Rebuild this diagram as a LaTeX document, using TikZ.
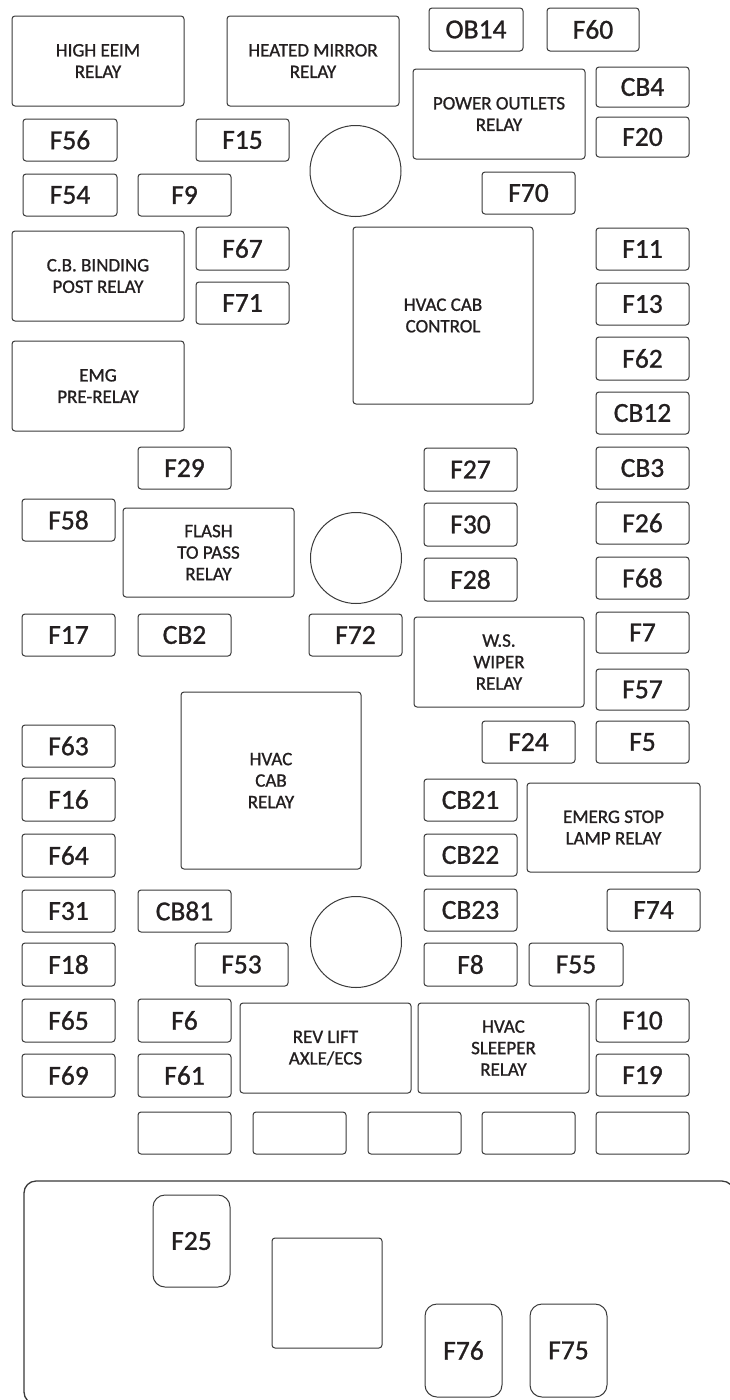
\documentclass[tikz,border=0pt]{standalone}
\usepackage{fontspec}
\setmainfont{Carlito}[BoldFont=Carlito, BoldFeatures={FakeBold=1}]
\definecolor{ln}{HTML}{3A3A3A}
\definecolor{tx}{HTML}{231F20}
\tikzset{
  box/.style={draw=ln, line width=1pt, rounded corners=3pt, inner sep=0pt, text=tx, align=center},
  fz/.style={font=\fontsize{27.5}{27.5}\selectfont\bfseries},
  rl/.style={font=\fontsize{19}{21.5}\selectfont\bfseries},
  bigfz/.style={box, rounded corners=12pt, fz},
  hole/.style={draw=ln, line width=1pt, circle, inner sep=0pt, minimum size=91pt},
}
\newcommand\bx[7][]{\node[box,fz,minimum width={(#5-#3)*1pt},minimum height={(#6-#4)*1pt},#1] (#2) at ({(#3+#5)/2},{(#4+#6)/2}) {#7};}
\begin{document}
\begin{tikzpicture}[x=1pt,y=-1pt]
\useasboundingbox (0,0) rectangle (730,1400);
\fill[white] (0,0) rectangle (730,1400);
% relays
\bx[rl,yshift=-4pt]{heeim}{12}{12}{184}{102}{HIGH EEIM\\RELAY}
\bx[rl,yshift=-4pt]{hmirror}{227}{12}{399}{102}{HEATED MIRROR\\RELAY}
\bx[rl,yshift=-2pt]{poutlets}{413}{67}{585}{157}{POWER OUTLETS\\RELAY}
\bx[rl]{cbbind}{12}{231}{184}{321}{C.B. BINDING\\POST RELAY}
\bx[rl]{emg}{12}{341}{184}{431}{EMG\\PRE-RELAY}
\bx[rl]{hvaccc}{353}{227}{533}{404}{HVAC CAB\\CONTROL}
\bx[rl]{flash}{123}{508}{294}{597}{FLASH\\TO PASS\\RELAY}
\bx[rl]{wiper}{414}{617}{584}{707}{W.S.\\WIPER\\RELAY}
\bx[rl]{hvaccr}{181}{692}{361}{869}{HVAC\\CAB\\RELAY}
\bx[rl]{emerg}{527}{783}{700}{872}{EMERG STOP\\LAMP RELAY}
\bx[rl]{revlift}{240}{1003}{411}{1093}{REV LIFT\\AXLE/ECS}
\bx[rl]{hvacsl}{418}{1003}{589}{1093}{HVAC\\SLEEPER\\RELAY}
% holes
\node[hole] (hole1) at (355.5,171) {};
\node[hole] (hole2) at (356,558) {};
\node[hole] (hole3) at (356,942) {};
% fuses
\bx{f56}{23}{119}{117}{161}{F56}
\bx{f15}{196}{119}{289}{161}{F15}
\bx{f54}{23}{174}{117}{216}{F54}
\bx{f9}{138}{174}{231}{216}{F9}
\bx{ob14}{429}{8}{523}{51}{OB14}
\bx{f60}{547}{8}{639}{51}{F60}
\bx{cb4}{596}{67}{689}{107}{CB4}
\bx{f20}{596}{117}{689}{157}{F20}
\bx{f70}{482}{172}{575}{214}{F70}
\bx{f67}{196}{227}{289}{270}{F67}
\bx{f71}{196}{282}{289}{324}{F71}
\bx{f11}{596}{228}{689}{270}{F11}
\bx{f13}{596}{283}{689}{325}{F13}
\bx{f62}{596}{337}{689}{380}{F62}
\bx{cb12}{596}{392}{689}{434}{CB12}
\bx{f29}{138}{447}{231}{489}{F29}
\bx{f58}{22}{499}{115}{541}{F58}
\bx{f27}{424}{448}{517}{491}{F27}
\bx{cb3}{596}{447}{689}{489}{CB3}
\bx{f30}{424}{503}{517}{546}{F30}
\bx{f26}{596}{502}{689}{544}{F26}
\bx{f28}{424}{558}{517}{601}{F28}
\bx{f68}{596}{557}{689}{599}{F68}
\bx{f17}{22}{614}{115}{656}{F17}
\bx{cb2}{138}{614}{231}{656}{CB2}
\bx{f72}{309}{614}{402}{656}{F72}
\bx{f7}{596}{612}{689}{653}{F7}
\bx[yshift=-2pt]{f57}{596}{667}{689}{708}{F57}
\bx{f63}{22}{725}{115}{767}{F63}
\bx{f24}{482}{721}{575}{763}{F24}
\bx{f5}{596}{721}{689}{763}{F5}
\bx{f16}{22}{778}{115}{821}{F16}
\bx{cb21}{424}{779}{517}{821}{CB21}
\bx{f64}{22}{834}{115}{877}{F64}
\bx{cb22}{424}{834}{517}{876}{CB22}
\bx{f31}{22}{890}{115}{932}{F31}
\bx{cb81}{138}{890}{231}{932}{CB81}
\bx{cb23}{424}{889}{517}{931}{CB23}
\bx{f74}{607}{889}{700}{931}{F74}
\bx{f18}{22}{943}{115}{986}{F18}
\bx{f53}{195}{943}{288}{986}{F53}
\bx{f8}{424}{943}{517}{986}{F8}
\bx{f55}{529}{943}{623}{986}{F55}
\bx{f65}{22}{999}{115}{1042}{F65}
\bx{f6}{138}{999}{231}{1042}{F6}
\bx{f10}{596}{999}{689}{1042}{F10}
\bx{f69}{22}{1054}{115}{1097}{F69}
\bx{f61}{138}{1054}{231}{1097}{F61}
\bx{f19}{596}{1054}{689}{1096}{F19}
% blank slots
\bx{s1}{138}{1112}{231}{1154}{}
\bx{s2}{253}{1112}{346}{1154}{}
\bx{s3}{368}{1112}{461}{1154}{}
\bx{s4}{482}{1112}{575}{1154}{}
\bx{s5}{596}{1112}{689}{1154}{}
% lower compartment
\draw[ln, line width=1.3pt, rounded corners=12pt] (24,1181) rectangle (734,1404);
\bx[bigfz]{f25}{153}{1195}{230}{1287}{F25}
\bx{sq}{272}{1238}{382}{1348}{}
\bx[bigfz,yshift=-6pt]{f76}{425}{1298}{502}{1391}{F76}
\bx[bigfz,yshift=-6pt]{f75}{530}{1298}{607}{1391}{F75}
\end{tikzpicture}
\end{document}
